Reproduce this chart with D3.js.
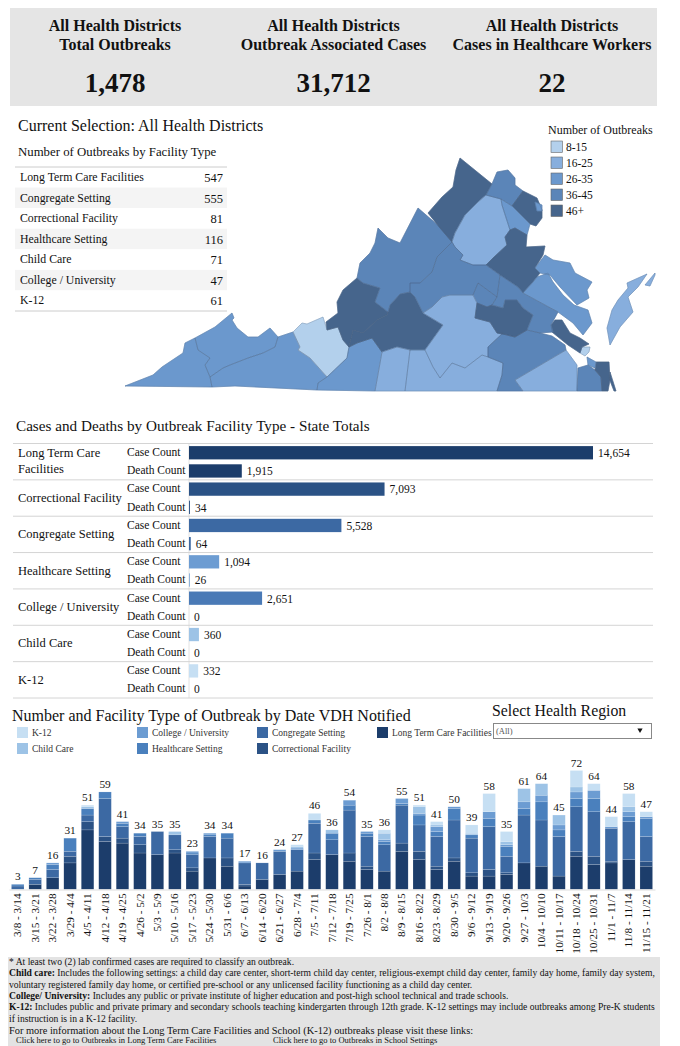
<!DOCTYPE html>
<html>
<head>
<meta charset="utf-8">
<title>VDH Outbreaks</title>
<script src="https://cdn.jsdelivr.net/npm/d3@7"></script>
<style>
  html, body { margin: 0; padding: 0; background: #fff; overflow: hidden; }
  svg { display: block; }
  text { font-family: "Liberation Serif", "Times New Roman", serif; fill: #111; }
</style>
</head>
<body>
<div id="chart"></div>
<script>
// top tiles
var tileTitles = [["All Health Districts", "Total Outbreaks"],
                  ["All Health Districts", "Outbreak Associated Cases"],
                  ["All Health Districts", "Cases in Healthcare Workers"]];
var tileValues = ["1,478", "31,712", "22"];

// outbreaks by facility table
var tableNames = ["Long Term Care Facilities", "Congregate Setting", "Correctional Facility",
                  "Healthcare Setting", "Child Care", "College / University", "K-12"];
var tableValues = [547, 555, 81, 116, 71, 47, 61];

// cases and deaths
var barNames = [["Long Term Care", "Facilities"], ["Correctional Facility"], ["Congregate Setting"],
                ["Healthcare Setting"], ["College / University"], ["Child Care"], ["K-12"]];
var caseCounts = [14654, 7093, 5528, 1094, 2651, 360, 332];
var deathCounts = [1915, 34, 64, 26, 0, 0, 0];
var barColors = ["#1c3d6b", "#2b5285", "#3c69a3", "#6c9cd2", "#4a7ab6", "#9dc3e6", "#c6dff3"];

// outbreaks by week
var weeks = ["3/8 - 3/14", "3/15 - 3/21", "3/22 - 3/28", "3/29 - 4/4", "4/5 - 4/11", "4/12 - 4/18",
  "4/19 - 4/25", "4/26 - 5/2", "5/3 - 5/9", "5/10 - 5/16", "5/17 - 5/23", "5/24 - 5/30", "5/31 - 6/6",
  "6/7 - 6/13", "6/14 - 6/20", "6/21 - 6/27", "6/28 - 7/4", "7/5 - 7/11", "7/12 - 7/18", "7/19 - 7/25",
  "7/26 - 8/1", "8/2 - 8/8", "8/9 - 8/15", "8/16 - 8/22", "8/23 - 8/29", "8/30 - 9/5", "9/6 - 9/12",
  "9/13 - 9/19", "9/20 - 9/26", "9/27 - 10/3", "10/4 - 10/10", "10/11 - 10/17", "10/18 - 10/24",
  "10/25 - 10/31", "11/1 - 11/7", "11/8 - 11/14", "11/15 - 11/21"];
var ltc =         [0,3,7,16,36,29,28,22,21,22,11,19,14,2,6,9,11,18,21,17,12,11,23,18,12,17,8,8,9,16,14,8,20,15,16,18,14];
var correctional= [0,0,0,4,5,3,3,5,0,2,2,0,5,1,0,0,0,4,0,5,2,0,5,5,2,2,2,4,1,0,0,0,3,5,1,0,3];
var congregate =  [2,3,5,3,4,23,7,5,14,9,8,13,12,13,10,14,13,18,9,26,18,16,23,16,18,23,21,26,10,29,28,24,27,27,20,23,15];
var healthcare =  [1,1,3,8,4,4,2,2,0,0,1,1,3,0,0,0,0,2,4,3,2,2,1,6,3,7,2,5,6,4,11,4,5,8,0,3,11];
var college =     [0,0,1,0,0,0,1,0,0,0,1,1,0,1,0,1,1,0,0,3,1,1,3,1,3,1,0,4,1,4,4,3,4,5,1,3,1];
var childCare =   [0,0,0,0,1,0,0,0,0,2,0,0,0,0,0,0,1,0,2,0,0,4,0,4,1,0,1,0,2,8,7,6,3,0,0,3,0];
var k12 =         [0,0,0,0,1,0,0,0,0,0,0,0,0,0,0,0,1,4,0,0,0,2,0,1,2,0,5,11,6,0,0,0,10,4,6,8,3];
var stackKeys = ["ltc", "correctional", "congregate", "healthcare", "college", "childCare", "k12"];
var stackColors = ["#1c3d6b", "#2b5285", "#3c69a3", "#4a80bd", "#6c9cd2", "#9dc3e6", "#c6dff3"];
var legendNames = ["K-12", "College / University", "Congregate Setting", "Long Term Care Facilities",
                   "Child Care", "Healthcare Setting", "Correctional Facility"];
var legendKeys = ["k12", "college", "congregate", "ltc", "childCare", "healthcare", "correctional"];

// map legend
var mapBins = ["8-15", "16-25", "26-35", "36-45", "46+"];
var mapColors = ["#b3d0ec", "#87aedd", "#6b98cd", "#5b85b8", "#46658c"];

// district outlines, in map units, [outbreak count, ring]
var districts = [
  [30, [[125,386],[153,375],[162,367],[183,353],[185,343],[195,338],[198,350],[210,358],[205,365],[210,377],[212,387]]],
  [30, [[195,338],[215,327],[232,313],[234,318],[232,320],[237,328],[248,337],[258,337],[270,328],[278,337],[275,347],[263,353],[248,358],[230,365],[223,368],[210,377],[205,365],[210,358],[198,350]]],
  [30, [[210,377],[223,368],[230,365],[248,358],[263,353],[275,347],[278,337],[293,332],[300,347],[298,350],[310,358],[327,377],[318,383],[317,390],[235,386],[212,387]]],
  [12, [[293,332],[302,323],[307,324],[323,317],[327,330],[338,327],[343,340],[349,347],[347,358],[327,377],[310,358],[298,350],[300,347]]],
  [30, [[327,377],[347,358],[349,347],[357,343],[372,338],[382,352],[375,391],[317,390],[318,383]]],
  [50, [[326,322],[338,313],[337,302],[343,290],[357,278],[363,283],[380,288],[375,302],[388,312],[387,315],[377,320],[363,333],[353,330],[349,347],[343,340],[338,327],[327,330]]],
  [50, [[349,347],[353,330],[363,333],[377,320],[387,315],[388,312],[390,305],[400,294],[410,292],[415,297],[423,313],[443,325],[425,350],[410,350],[397,347],[382,352],[372,338],[357,343]]],
  [40, [[378,228],[388,238],[400,243],[418,208],[440,227],[452,242],[437,257],[432,272],[420,283],[410,283],[410,292],[400,294],[390,305],[388,312],[375,302],[380,288],[363,283],[357,278],[360,263],[370,253],[375,243]]],
  [50, [[460,158],[492,184],[486,195],[478,202],[465,215],[455,233],[452,242],[440,228],[428,213],[442,197],[453,187],[456,170]]],
  [20, [[486,195],[501,199],[502,205],[510,230],[505,237],[507,245],[493,258],[486,265],[473,265],[460,260],[463,255],[455,247],[452,242],[455,233],[465,215],[478,202]]],
  [40, [[497,172],[508,170],[515,178],[515,185],[523,191],[512,206],[501,199],[486,195],[492,184]]],
  [50, [[523,191],[537,198],[542,210],[542,218],[536,226],[530,224],[512,206]]],
  [30, [[535,202],[542,205],[542,211],[537,211]]],
  [30, [[501,199],[512,206],[530,224],[527,235],[515,228],[510,230],[502,205]]],
  [50, [[515,228],[527,235],[526,247],[545,246],[543,255],[535,268],[540,273],[533,282],[523,293],[518,287],[500,275],[486,265],[493,258],[507,245],[505,237],[510,230]]],
  [40, [[452,242],[455,247],[463,255],[460,260],[473,265],[486,265],[500,275],[497,297],[478,283],[473,295],[450,295],[442,297],[432,307],[423,313],[415,297],[410,292],[410,283],[420,283],[432,272],[437,257]]],
  [40, [[478,283],[497,297],[492,305],[487,307],[477,303],[473,295]]],
  [20, [[423,313],[432,307],[442,297],[450,295],[473,295],[477,303],[475,318],[490,322],[497,333],[503,333],[488,347],[488,357],[482,355],[465,368],[452,363],[440,378],[433,367],[425,350],[443,325]]],
  [20, [[410,350],[425,350],[433,367],[440,378],[452,363],[465,368],[482,355],[488,357],[503,363],[502,375],[497,391],[405,391]]],
  [20, [[382,352],[397,347],[410,350],[405,391],[375,391]]],
  [40, [[488,347],[503,333],[507,335],[515,337],[527,330],[540,333],[552,336],[565,345],[566,350],[515,380],[523,391],[497,391],[502,375],[503,363],[488,357]]],
  [20, [[515,380],[566,350],[577,365],[577,391],[523,391]]],
  [40, [[578,368],[588,365],[595,370],[601,377],[602,391],[577,391]]],
  [50, [[596,362],[609,362],[610,380],[608,391],[602,391],[601,377],[595,370]]],
  [50, [[610,372],[616,391],[614,391],[609,378]]],
  [30, [[587,357],[596,362],[595,368],[588,365]]],
  [12, [[582,347],[590,347],[589,352],[585,356],[580,353]]],
  [50, [[551,325],[555,320],[562,320],[570,333],[580,338],[589,344],[582,347],[580,353],[568,345],[552,332]]],
  [50, [[477,303],[487,307],[492,305],[503,308],[505,300],[517,300],[523,308],[533,315],[527,330],[515,337],[507,335],[497,333],[490,322],[475,318]]],
  [40, [[500,275],[518,287],[523,293],[545,305],[558,312],[551,325],[553,332],[540,333],[527,330],[533,315],[523,308],[517,300],[505,300],[503,308],[492,305],[497,297]]],
  [30, [[545,255],[553,260],[570,263],[575,273],[592,282],[587,290],[589,298],[577,305],[560,287],[550,275],[540,273],[535,268]]],
  [30, [[533,282],[537,277],[548,273],[553,282],[563,295],[574,305],[588,310],[592,323],[583,335],[573,323],[558,312],[545,305],[523,293]]],
  [20, [[647,274],[627,283],[628,288],[618,300],[612,310],[607,328],[610,345],[620,327],[633,312],[628,297],[638,287]]],
  [20, [[655,273],[645,285],[650,286],[655,275]]]
];

// footnote
var noteLines = [
  ["", "* At least two (2) lab confirmed cases are required to classify an outbreak."],
  ["Child care:", " Includes the following settings: a child day care center, short-term child day center, religious-exempt child day center, family day home, family day system,"],
  ["", "voluntary registered family day home, or certified pre-school or any unlicensed facility functioning as a child day center."],
  ["College/ University:", " Includes any public or private institute of higher education and post-high school technical and trade schools."],
  ["K-12:", " Includes public and private primary and secondary schools teaching kindergarten through 12th grade. K-12 settings may include outbreaks among Pre-K students"],
  ["", "if instruction is in a K-12 facility."]
];
var noteLinks = ["Click here to go to Outbreaks in Long Term Care Facilities", "Click here to go to Outbreaks in School Settings"];

var svg = d3.select("#chart").append("svg").attr("width", 680).attr("height", 1046);

// ---- tiles
svg.append("rect").attr("x", 10).attr("y", 8).attr("width", 647).attr("height", 98).attr("fill", "#e5e5e5");
var tileX = d3.scalePoint().domain([0, 1, 2]).range([115, 552]);
tileTitles.forEach(function(lines, i) {
  lines.forEach(function(t, j) {
    svg.append("text").attr("x", tileX(i)).attr("y", 31 + j * 19).attr("text-anchor", "middle")
      .attr("font-size", 16).attr("font-weight", "bold").text(t);
  });
  svg.append("text").attr("x", tileX(i)).attr("y", 92).attr("text-anchor", "middle")
    .attr("font-size", 27).attr("font-weight", "bold").text(tileValues[i]);
});

// ---- table
svg.append("text").attr("x", 18).attr("y", 131).attr("font-size", 16).text("Current Selection: All Health Districts");
svg.append("text").attr("x", 18).attr("y", 156).attr("font-size", 12.8).text("Number of Outbreaks by Facility Type");
var rowY = d3.scaleBand().domain(d3.range(tableNames.length)).range([167, 311]);
var rows = svg.append("g").selectAll("g").data(tableNames).join("g")
  .attr("transform", (d, i) => "translate(0," + rowY(i) + ")");
rows.append("rect").attr("x", 15).attr("width", 212).attr("height", rowY.bandwidth())
  .attr("fill", (d, i) => i % 2 ? "#f4f4f4" : "#fff");
rows.append("text").attr("x", 20).attr("y", 14).attr("font-size", 11.8).text(d => d);
rows.append("text").attr("x", 223).attr("y", 15).attr("font-size", 12.5).attr("text-anchor", "end")
  .text((d, i) => tableValues[i]);
[167, 311].forEach(function(y) {
  svg.append("line").attr("x1", 15).attr("x2", 227).attr("y1", y).attr("y2", y).attr("stroke", "#ccc");
});

// ---- map
var mapX = d3.scaleLinear().domain([125, 660]).range([125, 660]);
var mapY = d3.scaleLinear().domain([158, 391]).range([158, 391]);
var mapFill = d3.scaleThreshold().domain([16, 26, 36, 46]).range(mapColors);
var ringLine = d3.line().x(p => mapX(p[0])).y(p => mapY(p[1])).curve(d3.curveLinearClosed);
svg.append("g").selectAll("path").data(districts).join("path")
  .attr("d", d => ringLine(d[1]))
  .attr("fill", d => mapFill(d[0]))
  .attr("stroke", d => mapFill(d[0])).attr("stroke-width", 0.6).attr("stroke-linejoin", "round");
// thin borders on top, lighter than the fill border
svg.append("g").selectAll("path").data(districts).join("path")
  .attr("d", d => ringLine(d[1]))
  .attr("fill", "none")
  .attr("stroke", "#4d6480").attr("stroke-opacity", 0.55).attr("stroke-width", 0.5);

svg.append("text").attr("x", 548).attr("y", 134).attr("font-size", 12).text("Number of Outbreaks");
var binY = d3.scaleBand().domain(mapBins).range([141, 221]);
var bins = svg.append("g").selectAll("g").data(mapBins).join("g")
  .attr("transform", d => "translate(551," + binY(d) + ")");
bins.append("rect").attr("width", 11.5).attr("height", 11.5).attr("fill", (d, i) => mapColors[i])
  .attr("stroke", "#666").attr("stroke-width", 0.6);
bins.append("text").attr("x", 15).attr("y", 10).attr("font-size", 11.5).text(d => d);

// ---- cases and deaths
svg.append("text").attr("x", 16).attr("y", 431).attr("font-size", 15.2)
  .text("Cases and Deaths by Outbreak Facility Type - State Totals");
var groupY = d3.scaleBand().domain(d3.range(barNames.length)).range([443.5, 698]);
var barX = d3.scaleLinear().domain([0, 14654]).range([189, 593]);
var fmt = d3.format(",");

svg.append("line").attr("x1", 189).attr("x2", 189).attr("y1", 443).attr("y2", 698).attr("stroke", "#e2e2e2");
var groups = svg.append("g").selectAll("g").data(barNames).join("g")
  .attr("transform", (d, i) => "translate(0," + groupY(i) + ")");
groups.append("line").attr("x1", 13).attr("x2", 653).attr("stroke", "#d4d4d4");
groups.each(function(lines, i) {
  var g = d3.select(this);
  var mid = lines.length == 2 ? 13 : 22;
  lines.forEach(function(t, j) {
    g.append("text").attr("x", 18).attr("y", mid + j * 16).attr("font-size", 12.5).text(t);
  });
  [caseCounts[i], deathCounts[i]].forEach(function(v, j) {
    var top = 2.6 + j * 18.2;
    g.append("text").attr("x", 127).attr("y", top + 10).attr("font-size", 11.5)
      .text(j == 0 ? "Case Count" : "Death Count");
    g.append("rect").attr("x", barX(0)).attr("y", top).attr("height", 13.3)
      .attr("width", barX(v) - barX(0)).attr("fill", barColors[i]);
    g.append("text").attr("x", barX(v) + 5).attr("y", top + 11).attr("font-size", 11.5).text(fmt(v));
  });
});
svg.append("line").attr("x1", 13).attr("x2", 653).attr("y1", 698).attr("y2", 698).attr("stroke", "#d4d4d4");

// ---- weekly stacked bars
svg.append("text").attr("x", 12).attr("y", 721).attr("font-size", 16)
  .text("Number and Facility Type of Outbreak by Date VDH Notified");
svg.append("text").attr("x", 492).attr("y", 716).attr("font-size", 15.8).text("Select Health Region");
svg.append("rect").attr("x", 493.5).attr("y", 723.5).attr("width", 158).attr("height", 15)
  .attr("fill", "#fff").attr("stroke", "#888");
svg.append("text").attr("x", 496).attr("y", 734).attr("font-size", 8.5).style("fill", "#555").text("(All)");
svg.append("path").attr("d", d3.symbol().type(d3.symbolTriangle).size(12)())
  .attr("transform", "translate(640,730) rotate(180)").attr("fill", "#111");

var stackColor = d3.scaleOrdinal().domain(stackKeys).range(stackColors);
var legendX = d3.scalePoint().domain([0, 1, 2, 3]).range([17, 377]);
legendKeys.forEach(function(k, i) {
  var col = i % 4, y = i < 4 ? 727 : 743;
  svg.append("rect").attr("x", legendX(col)).attr("y", y).attr("width", 11).attr("height", 11).attr("fill", stackColor(k));
  svg.append("text").attr("x", legendX(col) + 15).attr("y", y + 9).attr("font-size", 9.5).style("fill", "#333").text(legendNames[i]);
});

var weekRows = weeks.map(function(w, i) {
  return { week: w, ltc: ltc[i], correctional: correctional[i], congregate: congregate[i],
           healthcare: healthcare[i], college: college[i], childCare: childCare[i], k12: k12[i] };
});
var x = d3.scaleBand().domain(weeks).range([9, 655]).paddingInner(0.28).paddingOuter(0.14);
var y = d3.scaleLinear().domain([0, 72]).range([889.3, 770.5]);
var series = d3.stack().keys(stackKeys)(weekRows);

svg.append("g").selectAll("g").data(series).join("g")
  .attr("fill", d => stackColor(d.key))
  .selectAll("rect").data(d => d).join("rect")
  .attr("x", d => x(d.data.week))
  .attr("y", d => y(d[1]))
  .attr("width", x.bandwidth())
  .attr("height", d => y(d[0]) - y(d[1]))
  .attr("stroke", "#fff").attr("stroke-opacity", 0.35).attr("stroke-width", 0.4);

svg.append("g").selectAll("text").data(weekRows).join("text")
  .attr("x", d => x(d.week) + x.bandwidth() / 2)
  .attr("y", d => y(d3.sum(stackKeys, k => d[k])) - 4)
  .attr("text-anchor", "middle").attr("font-size", 11.3)
  .text(d => d3.sum(stackKeys, k => d[k]));

var xAxis = svg.append("g").attr("transform", "translate(0,889.5)").call(d3.axisBottom(x).tickSize(0));
xAxis.select(".domain").attr("stroke", "#ddd");
xAxis.selectAll("text")
  .attr("transform", "rotate(-90)").attr("x", -4).attr("y", 0).attr("dy", "0.32em")
  .attr("text-anchor", "end").attr("font-size", 11.2)
  .style("font-family", '"Liberation Serif", serif');

// ---- footnote
svg.append("rect").attr("x", 8).attr("y", 957).attr("width", 652).attr("height", 89).attr("fill", "#e3e3e3");
var noteY = d3.scaleLinear().domain([0, 5]).range([965, 1021.5]);
noteLines.forEach(function(l, i) {
  var t = svg.append("text").attr("x", 9).attr("y", noteY(i)).attr("font-size", 9.6);
  if (l[0]) t.append("tspan").attr("font-weight", "bold").text(l[0]);
  t.append("tspan").text(l[1]);
});
svg.append("text").attr("x", 9).attr("y", 1033.5).attr("font-size", 10.4)
  .text("For more information about the Long Term Care Facilities and School (K-12) outbreaks please visit these links:");
svg.append("text").attr("x", 16).attr("y", 1043).attr("font-size", 8.5).text(noteLinks[0]);
svg.append("text").attr("x", 273).attr("y", 1043).attr("font-size", 8.5).text(noteLinks[1]);
</script>
</body>
</html>
